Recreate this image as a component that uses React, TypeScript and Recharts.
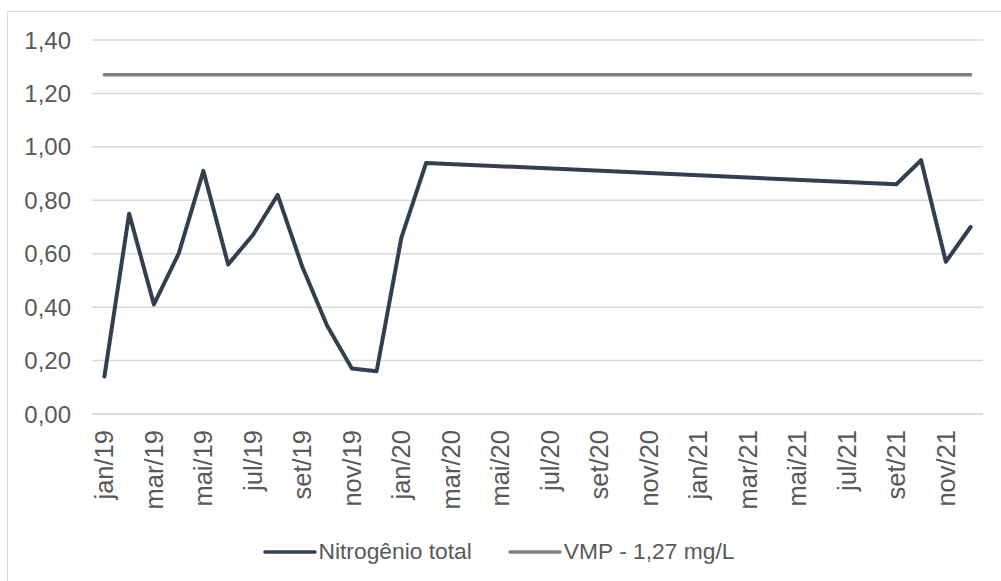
import React from 'react';
import { LineChart, Line, XAxis, YAxis, CartesianGrid, Legend } from 'recharts';

const months = ['jan', 'fev', 'mar', 'abr', 'mai', 'jun', 'jul', 'ago', 'set', 'out', 'nov', 'dez'];
const years = ['19', '20', '21'];
const categories: string[] = years.flatMap((y) => months.map((m) => `${m}/${y}`));

// Nitrogênio total (mg/L); null = no sample in that month
const nitrogenio: (number | null)[] = [
  0.14, 0.75, 0.41, 0.60, 0.91, 0.56, 0.67, 0.82, 0.55, 0.33, 0.17, 0.16,
  0.66, 0.94, null, null, null, null, null, null, null, null, null, null,
  null, null, null, null, null, null, null, null, 0.86, 0.95, 0.57, 0.70,
];
const vmpValue = 1.27;
const yTicks = [0, 0.2, 0.4, 0.6, 0.8, 1.0, 1.2, 1.4];

const data = categories.map((c, i) => ({ month: c, nt: nitrogenio[i], vmp: vmpValue }));

const FONT = '"Liberation Sans", Arial, sans-serif';
const TEXT = '#595959';
const NT_COLOR = '#333f50';
const VMP_COLOR = '#808080';

const fmt = (v: number) => v.toFixed(2).replace('.', ',');

const XTick = (props: any) => {
  const { x, y, payload } = props;
  return (
    <text
      x={x}
      y={y + 8}
      transform={`rotate(-90, ${x}, ${y + 8})`}
      textAnchor="end"
      dy="0.35em"
      fill={TEXT}
      fontSize={25.5}
      fontFamily={FONT}
    >
      {payload.value}
    </text>
  );
};

const LegendContent = () => {
  const items = [
    { label: 'Nitrogênio total', color: NT_COLOR },
    { label: 'VMP - 1,27 mg/L', color: VMP_COLOR },
  ];
  return (
    <div style={{ display: 'flex', justifyContent: 'center', alignItems: 'center', gap: 36, fontFamily: FONT, fontSize: 22.8, color: TEXT, paddingTop: 6, paddingLeft: 6 }}>
      {items.map((it) => (
        <div key={it.label} style={{ display: 'flex', alignItems: 'center' }}>
          <svg width={54} height={10} style={{ marginRight: 2 }}>
            <line x1={2} y1={5} x2={52} y2={5} stroke={it.color} strokeWidth={3.5} strokeLinecap="round" />
          </svg>
          <span>{it.label}</span>
        </div>
      ))}
    </div>
  );
};

export default function App() {
  return (
    <div
      style={{
        position: 'absolute',
        left: 7,
        top: 11,
        width: 1000,
        height: 580,
        border: '1px solid #d9d9d9',
        background: '#fff',
      }}
    >
      <LineChart width={990} height={560} data={data} margin={{ top: 28, right: 15, left: 0, bottom: 0 }}>
        <CartesianGrid horizontal vertical={false} stroke="#d9d9d9" strokeWidth={1.5} />
        <XAxis
          dataKey="month"
          interval={1}
          tickLine={false}
          axisLine={{ stroke: '#d9d9d9', strokeWidth: 1.5 }}
          height={118}
          padding={{ left: 12.4, right: 12.4 }}
          tick={<XTick />}
        />
        <YAxis
          domain={[0, 1.4]}
          ticks={yTicks}
          tickFormatter={fmt}
          width={84}
          tickLine={false}
          axisLine={false}
          tickMargin={15}
          tick={{ fill: TEXT, fontSize: 24, fontFamily: FONT }}
        />
        <Legend verticalAlign="bottom" height={40} content={<LegendContent />} />
        <Line
          type="linear"
          dataKey="vmp"
          stroke={VMP_COLOR}
          strokeWidth={3.5}
          dot={false}
          strokeLinecap="round"
          isAnimationActive={false}
        />
        <Line
          type="linear"
          dataKey="nt"
          stroke={NT_COLOR}
          strokeWidth={4}
          dot={false}
          connectNulls
          strokeLinecap="round"
          strokeLinejoin="round"
          isAnimationActive={false}
        />
      </LineChart>
    </div>
  );
}
